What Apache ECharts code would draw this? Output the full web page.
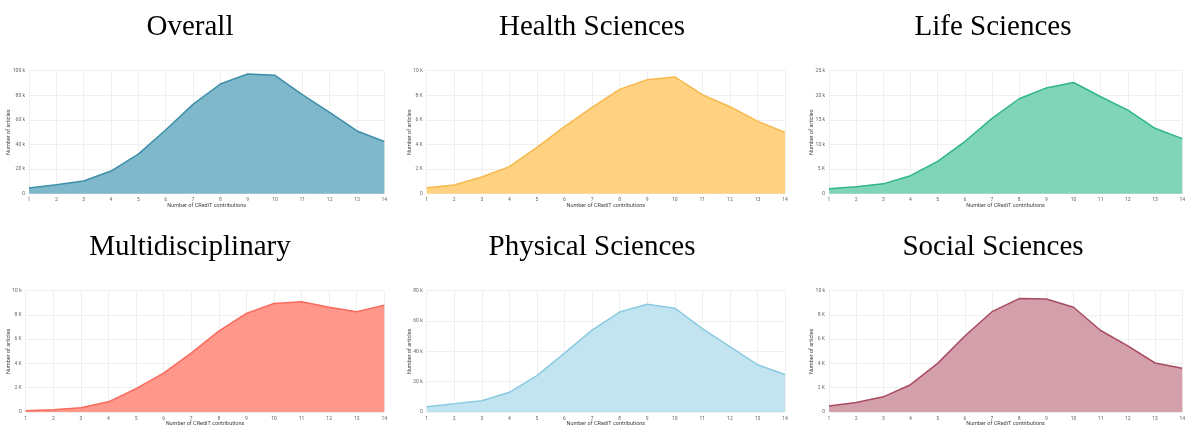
<!DOCTYPE html>
<html>
<head>
<meta charset="utf-8">
<script src="https://cdn.jsdelivr.net/npm/echarts@6/dist/echarts.min.js"></script>
<style>
  html, body { margin: 0; padding: 0; background: #ffffff; }
  #chart { width: 1188px; height: 428px; }
</style>
</head>
<body>
<div id="chart"></div>
<script>
// Number of CRediT contributions per article (x axis categories)
const contributions = ['1','2','3','4','5','6','7','8','9','10','11','12','13','14'];

// Number of articles per field
const overall        = [4600, 7300, 10300, 18400, 32200, 51800, 72600, 89200, 97300, 96200, 80500, 66100, 51000, 42500];
const healthSciences = [490, 700, 1360, 2200, 3770, 5450, 7020, 8480, 9270, 9490, 8050, 7070, 5900, 4990];
const lifeSciences   = [1000, 1400, 2000, 3660, 6570, 10600, 15300, 19300, 21500, 22600, 19700, 17000, 13300, 11200];
const multidisciplinary = [110, 190, 350, 840, 1920, 3200, 4850, 6670, 8130, 8940, 9080, 8640, 8270, 8810];
const physicalSciences  = [3500, 5400, 7400, 13000, 24000, 38800, 54000, 65900, 71000, 68500, 55000, 43100, 31200, 24700];
const socialSciences    = [490, 790, 1250, 2250, 4010, 6260, 8270, 9350, 9320, 8640, 6720, 5450, 4040, 3600];

const panelTitles = ['Overall', 'Health Sciences', 'Life Sciences', 'Multidisciplinary', 'Physical Sciences', 'Social Sciences'];
const yMax = [100000, 10000, 25000, 10000, 80000, 10000];
const yStep = [20000, 2000, 5000, 2000, 20000, 2000];

const panels = [
  { data: overall,           line: '#3d8fa8', fill: '#7fb8cb' },
  { data: healthSciences,    line: '#f7b84b', fill: '#fed280' },
  { data: lifeSciences,      line: '#2db68a', fill: '#80d4b8' },
  { data: multidisciplinary, line: '#fa6a5c', fill: '#ff978b' },
  { data: physicalSciences,  line: '#8bcbe2', fill: '#c2e3f0' },
  { data: socialSciences,    line: '#a84a62', fill: '#d39faa' }
];

// plot rectangles for the 2 x 3 layout
const grids = [
  { left: 29,    top: 70.7,  width: 355.3, height: 123 },
  { left: 426.7, top: 70.7,  width: 358.3, height: 123 },
  { left: 829,   top: 70.7,  width: 356.7, height: 123 },
  { left: 25.7,  top: 290.7, width: 358.6, height: 123 },
  { left: 426.7, top: 290.7, width: 358.3, height: 123 },
  { left: 829,   top: 290.7, width: 356.7, height: 123 }
];
const yNameGap = [17, 14, 14.5, 14, 14, 14.5];
const titlePos = [
  { x: 190, y: 13 }, { x: 592, y: 13 }, { x: 993, y: 13 },
  { x: 190, y: 233 }, { x: 592, y: 233 }, { x: 993, y: 233 }
];

function fmtK(v) {
  if (v === 0) return '0';
  const k = v / 1000;
  return k + (v >= 10000 ? ' k' : ' K');
}

const option = {
  backgroundColor: '#ffffff',
  animation: false,
  title: panelTitles.map((t, i) => ({
    text: t,
    left: titlePos[i].x,
    top: titlePos[i].y,
    padding: 0,
    textAlign: 'center',
    textStyle: { fontFamily: 'Liberation Serif', fontSize: 29, fontWeight: 'normal', color: '#000' }
  })),
  grid: grids,
  xAxis: grids.map((g, i) => ({
    type: 'category',
    gridIndex: i,
    data: contributions,
    boundaryGap: false,
    name: 'Number of CRediT contributions',
    nameLocation: 'middle',
    nameGap: 9,
    nameMoveOverlap: false,
    nameTextStyle: { fontFamily: 'Roboto', fontSize: 5.5, color: '#444' },
    axisLine: { show: false },
    axisTick: { show: false },
    axisLabel: { fontFamily: 'Roboto', fontSize: 5, color: '#666', margin: 4 },
    splitLine: { show: true, lineStyle: { color: '#efefef', width: 1 } }
  })),
  yAxis: grids.map((g, i) => ({
    type: 'value',
    gridIndex: i,
    min: 0,
    max: yMax[i],
    interval: yStep[i],
    name: 'Number of articles',
    nameLocation: 'middle',
    nameGap: yNameGap[i],
    nameMoveOverlap: false,
    nameRotate: 90,
    nameTextStyle: { fontFamily: 'Roboto', fontSize: 5.5, color: '#444' },
    axisLine: { show: false },
    axisTick: { show: false },
    axisLabel: { fontFamily: 'Roboto', fontSize: 5, color: '#666', margin: 4, formatter: fmtK },
    splitLine: { show: true, lineStyle: { color: '#efefef', width: 1 } }
  })),
  series: panels.map((p, i) => ({
    type: 'line',
    name: panelTitles[i],
    xAxisIndex: i,
    yAxisIndex: i,
    data: p.data,
    symbol: 'none',
    lineStyle: { color: p.line, width: 1.5 },
    areaStyle: { color: p.fill, opacity: 1 }
  }))
};

const chart = echarts.init(document.getElementById('chart'), null, { renderer: 'canvas' });
chart.setOption(option);
</script>
</body>
</html>
